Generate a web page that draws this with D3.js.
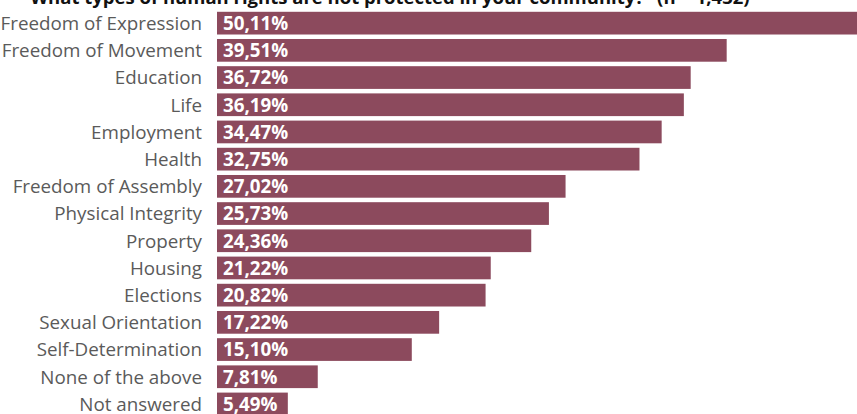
<!DOCTYPE html>
<html>
<head>
<meta charset="utf-8">
<script src="https://cdn.jsdelivr.net/npm/d3@7"></script>
<style>
  html, body { margin: 0; padding: 0; background: #fff; }
  svg { display: block; }
</style>
</head>
<body>
<svg id="chart" width="857" height="414"></svg>
<script>
// Survey answers: share of respondents naming each right as not protected
const categories = [
  "Freedom of Expression", "Freedom of Movement", "Education", "Life",
  "Employment", "Health", "Freedom of Assembly", "Physical Integrity",
  "Property", "Housing", "Elections", "Sexual Orientation",
  "Self-Determination", "None of the above", "Not answered"
];
const values = [
  50.11, 39.51, 36.72, 36.19, 34.47, 32.75, 27.02, 25.73,
  24.36, 21.22, 20.82, 17.22, 15.10, 7.81, 5.49
];
const titleText = "\u201CWhat types of human rights are not protected in your community?\u201D  (n = 1,432)";

const data = categories.map((c, i) => ({ category: c, value: values[i] }));

const width = 857, height = 414;
const barLeft = 217;
const svg = d3.select("#chart");

const x = d3.scaleLinear().domain([0, 10]).range([barLeft, barLeft + 129]);
const y = d3.scaleBand()
  .domain(categories)
  .range([9.55, 9.55 + 408])
  .paddingInner(0.165)
  .paddingOuter(0.0825);

const fmt = v => d3.format(".2f")(v).replace(".", ",") + "%";

// Title (runs off the top edge)
svg.append("text")
  .attr("x", 22)
  .attr("y", 3.5)
  .attr("font-family", "'Open Sans', sans-serif")
  .attr("font-weight", 700)
  .attr("font-size", 18.5)
  .attr("fill", "#111")
  .text(titleText);

// Bars
svg.append("g").selectAll("rect")
  .data(data)
  .join("rect")
  .attr("x", x(0))
  .attr("y", d => y(d.category))
  .attr("width", d => x(d.value) - x(0))
  .attr("height", y.bandwidth())
  .attr("fill", "#8c4a5d");

// Value labels inside the bars
svg.append("g").selectAll("text")
  .data(data)
  .join("text")
  .attr("x", x(0) + 6)
  .attr("y", d => y(d.category) + y.bandwidth() / 2)
  .attr("dy", "0.36em")
  .attr("font-family", "'Open Sans', sans-serif")
  .attr("font-weight", 700)
  .attr("font-size", 18.8)
  .attr("fill", "#fff")
  .text(d => fmt(d.value));

// Category axis on the left
const axis = d3.axisLeft(y).tickSize(0).tickPadding(0);
const gAxis = svg.append("g")
  .attr("transform", `translate(${barLeft - 15},0)`)
  .call(axis);
gAxis.select(".domain").remove();
gAxis.selectAll("text")
  .attr("font-family", "'Open Sans', sans-serif")
  .attr("font-size", 18.8)
  .attr("fill", "#5a5a5a")
  .attr("dy", "0.36em");
</script>
</body>
</html>
